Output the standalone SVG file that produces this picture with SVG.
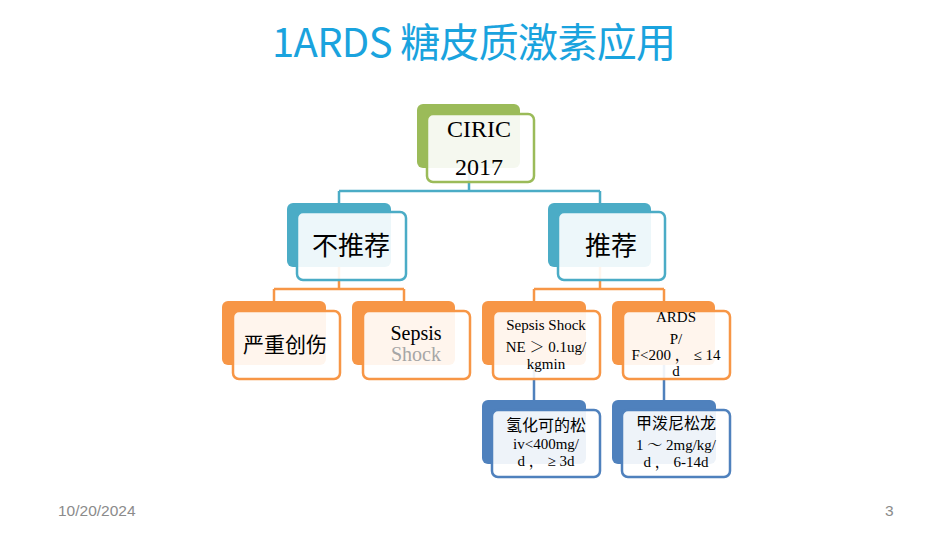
<svg xmlns="http://www.w3.org/2000/svg" width="950" height="535" viewBox="0 0 950 535">
<style>
.front{fill:#ffffff;fill-opacity:0.9;stroke-width:2.5}
.g .back{fill:#9bbb59}.g .front{stroke:#9bbb59}
.t .back{fill:#4bacc6}.t .front{stroke:#4bacc6}
.o .back{fill:#f79646}.o .front{stroke:#f79646}
.b .back{fill:#4f81bd}.b .front{stroke:#4f81bd}
.serif{font-family:"Liberation Serif","Noto Serif CJK SC","Noto Sans CJK SC",serif;fill:#000;text-anchor:middle}
.cjk{font-family:"Noto Sans CJK SC",sans-serif;fill:#000;text-anchor:middle}
.conn{fill:none;stroke-width:2.5}
</style>
<rect width="950" height="535" fill="#ffffff"/>
<text x="272" y="57" font-family="Noto Sans CJK SC, sans-serif" font-size="40" fill="#1aa3de" textLength="404" lengthAdjust="spacing">1ARDS 糖皮质激素应用</text>
<g id="connectors">
<path class="conn" stroke="#4bacc6" d="M469,168 V191 M339,191 H600 M339,191 V203 M600,191 V203"/>
<path class="conn" stroke="#f79646" d="M339,267 V289 M274,289 H404 M274,289 V301 M404,289 V301"/>
<path class="conn" stroke="#f79646" d="M600,267 V289 M534,289 H664 M534,289 V301 M664,289 V301"/>
<path class="conn" stroke="#4f81bd" d="M534,365 V400 M664,365 V400"/>
</g>
<g id="ciric" class="g">
<rect class="back" x="417" y="104" width="103" height="64" rx="6"/>
<rect class="front" x="427" y="114" width="107" height="68" rx="6"/>
<text class="serif" x="479" y="137" font-size="24">CIRIC</text>
<text class="serif" x="479" y="175" font-size="24">2017</text>
</g>
<g id="not-recommended" class="t">
<rect class="back" x="287" y="203" width="104" height="64" rx="6"/>
<rect class="front" x="297" y="212" width="109" height="68" rx="6"/>
<text class="cjk" x="351" y="255" font-size="26">不推荐</text>
</g>
<g id="recommended" class="t">
<rect class="back" x="548" y="203" width="103" height="64" rx="6"/>
<rect class="front" x="558" y="212" width="107" height="68" rx="6"/>
<text class="cjk" x="611" y="255" font-size="26">推荐</text>
</g>
<g id="trauma" class="o">
<rect class="back" x="222" y="301" width="104" height="64" rx="6"/>
<rect class="front" x="233" y="311" width="107" height="68" rx="6"/>
<text class="cjk" x="285" y="352" font-size="21">严重创伤</text>
</g>
<g id="sepsis" class="o">
<rect class="back" x="352" y="301" width="103" height="64" rx="6"/>
<rect class="front" x="363" y="311" width="107" height="68" rx="6"/>
<text class="serif" x="416" y="340" font-size="20">Sepsis</text>
<text class="serif" x="416" y="361" font-size="20" style="fill:#a6a6a6">Shock</text>
</g>
<g id="sepsis-shock" class="o">
<rect class="back" x="482" y="301" width="104" height="64" rx="6"/>
<rect class="front" x="493" y="311" width="107" height="68" rx="6"/>
<text class="serif" x="546" y="330" font-size="15">Sepsis Shock</text>
<text class="serif" x="546" y="352" font-size="15">NE ＞ 0.1ug/</text>
<text class="serif" x="546" y="369" font-size="15">kgmin</text>
</g>
<g id="ards" class="o">
<rect class="back" x="612" y="301" width="103" height="64" rx="6"/>
<rect class="front" x="623" y="311" width="107" height="68" rx="6"/>
<text class="serif" x="676" y="322" font-size="15">ARDS</text>
<text class="serif" x="676" y="344" font-size="15">P/</text>
<text class="serif" x="676" y="360" font-size="15">F&lt;200 ， ≤ 14</text>
<text class="serif" x="676" y="376" font-size="15">d</text>
</g>
<g id="hydrocortisone" class="b">
<rect class="back" x="482" y="400" width="104" height="64" rx="6"/>
<rect class="front" x="492" y="410" width="108" height="67" rx="6"/>
<text class="cjk" x="546" y="431" font-size="16">氢化可的松</text>
<text class="serif" x="546" y="449" font-size="15">iv&lt;400mg/</text>
<text class="serif" x="546" y="466" font-size="15">d ， ≥ 3d</text>
</g>
<g id="methylprednisolone" class="b">
<rect class="back" x="612" y="400" width="104" height="64" rx="6"/>
<rect class="front" x="622" y="410" width="108" height="67" rx="6"/>
<text class="cjk" x="676" y="429" font-size="16">甲泼尼松龙</text>
<text class="serif" x="676" y="450" font-size="15">1 ～ 2mg/kg/</text>
<text class="serif" x="676" y="467" font-size="15">d ，  6-14d</text>
</g>
<text x="58" y="516" font-family="Liberation Sans, sans-serif" font-size="15.5" fill="#8b8b8b">10/20/2024</text>
<text x="885" y="516" font-family="Liberation Sans, sans-serif" font-size="15.5" fill="#8b8b8b">3</text>
</svg>
